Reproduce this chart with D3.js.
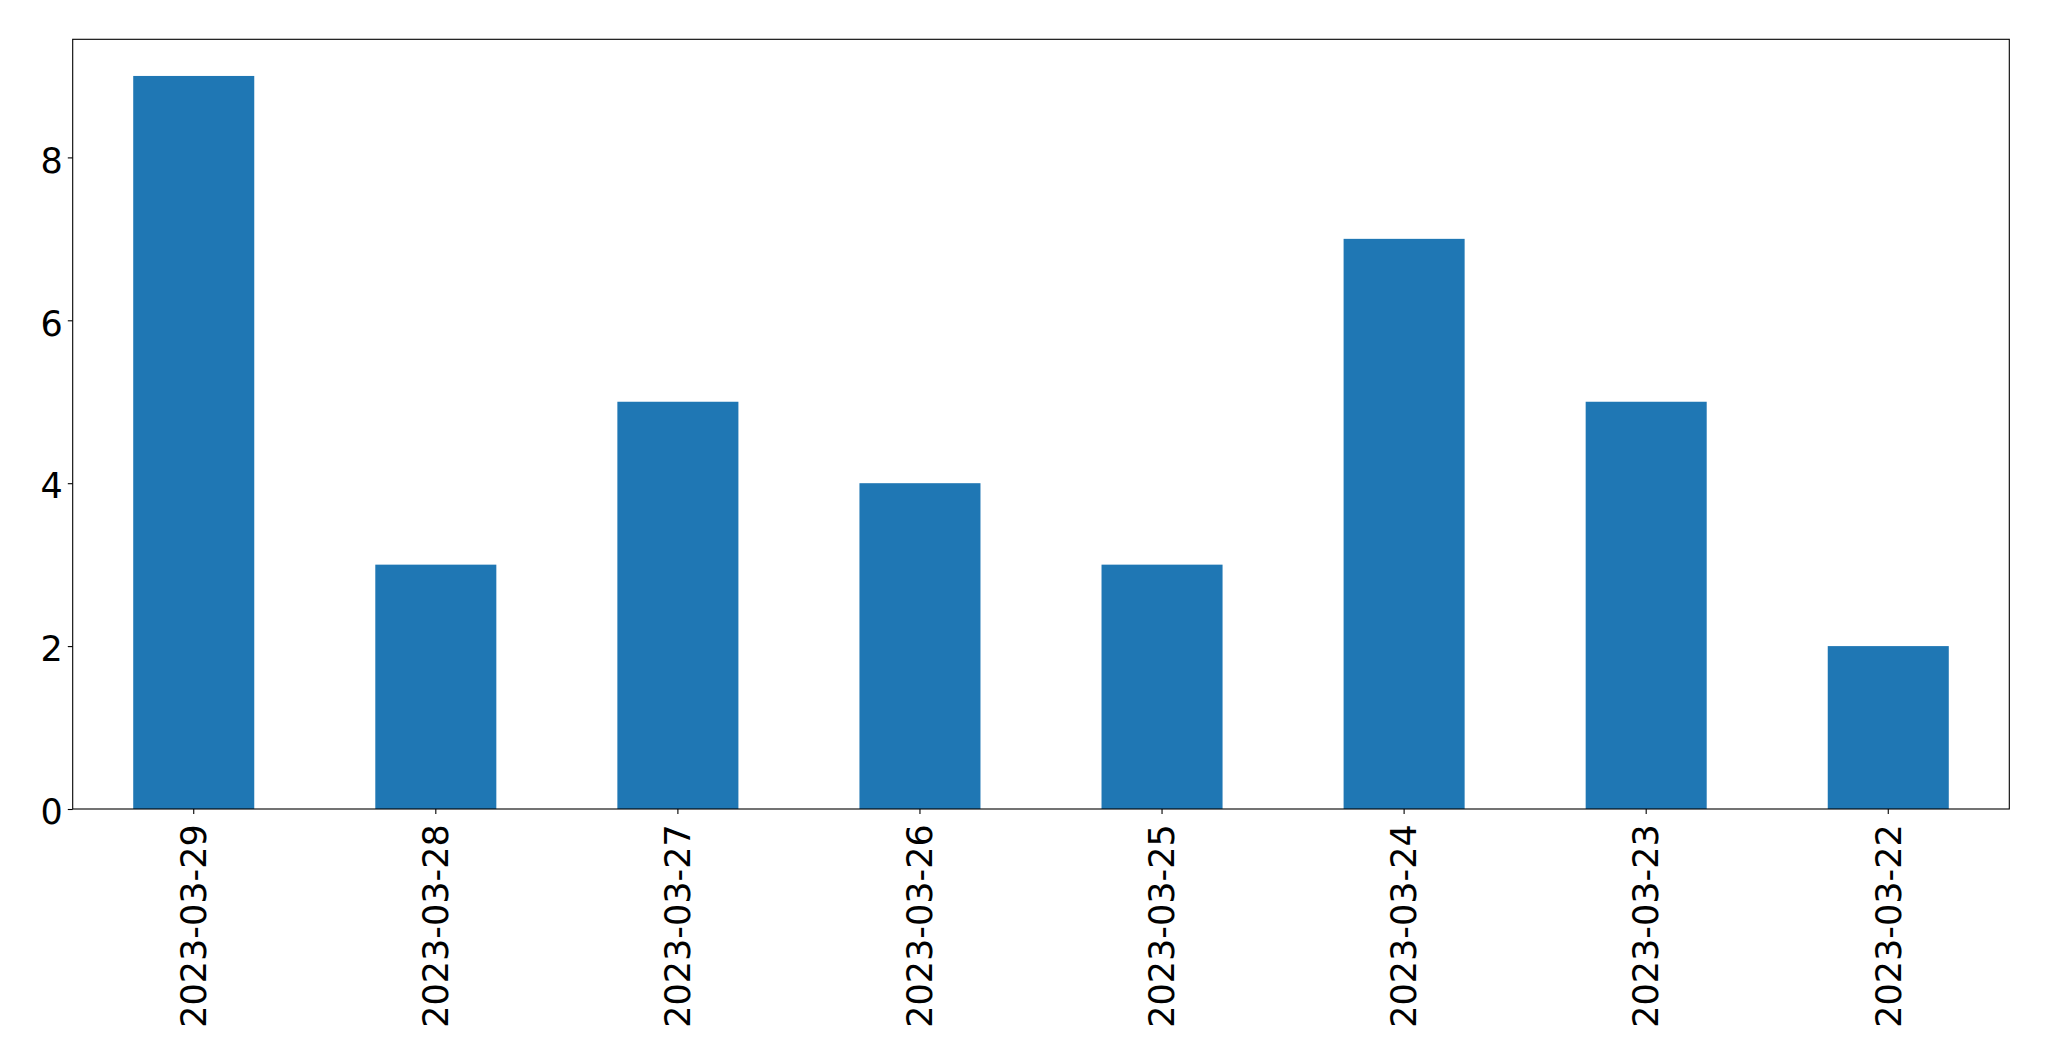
<!DOCTYPE html>
<html>
<head>
<meta charset="utf-8">
<script src="https://cdn.jsdelivr.net/npm/d3@7"></script>
<style>
html,body{margin:0;padding:0;background:#fff;}
svg{display:block;}
svg text{font-family:"DejaVu Sans", sans-serif;}
</style>
</head>
<body>
<svg id="chart" width="2049" height="1061"></svg>
<script>
const categories = ["2023-03-29","2023-03-28","2023-03-27","2023-03-26","2023-03-25","2023-03-24","2023-03-23","2023-03-22"];
const values = [9, 3, 5, 4, 3, 7, 5, 2];
const yTicks = [0, 2, 4, 6, 8];

const W = 2049, H = 1061;
const margin = {left: 72.7, right: W - 2009.3, top: 39.3, bottom: H - 809};
const svg = d3.select("#chart");
const pw = W - margin.left - margin.right;
const ph = H - margin.top - margin.bottom;
const g = svg.append("g").attr("transform", `translate(${margin.left},${margin.top})`);

const x = d3.scaleBand().domain(categories).range([0, pw]).paddingInner(0.5).paddingOuter(0.25);
const y = d3.scaleLinear().domain([0, d3.max(values) * 1.05]).range([ph, 0]);

g.selectAll("rect.bar").data(values).enter().append("rect")
  .attr("class", "bar")
  .attr("x", (d, i) => x(categories[i]))
  .attr("width", x.bandwidth())
  .attr("y", d => y(d))
  .attr("height", d => y(0) - y(d))
  .attr("fill", "#1f77b4");

const fs = 35;
const tickLen = 4.9;

const yAxis = g.append("g").call(d3.axisLeft(y).tickValues(yTicks).tickSize(tickLen).tickPadding(4.9).tickFormat(d3.format("d")));
yAxis.attr("font-family", null).attr("font-size", null);
yAxis.select(".domain").remove();
yAxis.selectAll(".tick line").attr("stroke", "#000").attr("stroke-width", 1.1);
yAxis.selectAll(".tick text").style("font-family", "'DejaVu Sans', sans-serif").style("font-size", fs + "px").attr("fill", "#000")
  .attr("dy", "0.42em");

const xAxis = g.append("g").attr("transform", `translate(0,${ph})`)
  .call(d3.axisBottom(x).tickSize(tickLen).tickPadding(4.9));
xAxis.attr("font-family", null).attr("font-size", null);
xAxis.select(".domain").remove();
xAxis.selectAll(".tick line").attr("stroke", "#000").attr("stroke-width", 1.1);
xAxis.selectAll(".tick text")
  .style("font-family", "'DejaVu Sans', sans-serif").style("font-size", fs + "px").attr("fill", "#000")
  .attr("text-anchor", "end")
  .attr("transform", "rotate(-90)")
  .attr("x", -(tickLen + 4.9 + 5.5))
  .attr("y", 0)
  .attr("dy", "0.35em");

g.append("rect").attr("x", 0).attr("y", 0).attr("width", pw).attr("height", ph)
  .attr("fill", "none").attr("stroke", "#000").attr("stroke-width", 1.1);
</script>
</body>
</html>
